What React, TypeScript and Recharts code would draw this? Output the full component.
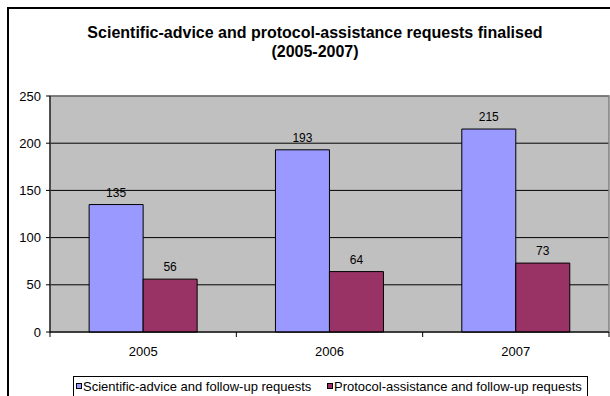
import React from "react";
import { BarChart, Bar, XAxis, YAxis, CartesianGrid, LabelList, ReferenceArea } from "recharts";

const years = ["2005", "2006", "2007"];
const scientificAdvice = [135, 193, 215];
const protocolAssistance = [56, 64, 73];
const yTicks = [0, 50, 100, 150, 200, 250];
const titleLines = ["Scientific-advice and protocol-assistance requests finalised", "(2005-2007)"];
const seriesNames = ["Scientific-advice and follow-up requests", "Protocol-assistance and follow-up requests"];
const seriesColors = ["#9999FF", "#993366"];

const data = years.map((y, i) => ({ year: y, sa: scientificAdvice[i], pa: protocolAssistance[i] }));

const FONT = "'Liberation Sans', Arial, sans-serif";

const XTick = (props: any) => {
  const { x, y, payload } = props;
  const off = payload.offset || 0;
  const idx = payload.index;
  const top = y - 5;
  return (
    <g>
      {idx === 0 && <line x1={x - off} x2={x - off} y1={top} y2={top + 5} stroke="#000" />}
      <line x1={x + off} x2={x + off} y1={top} y2={top + 5} stroke="#000" />
      <text x={x} y={top + 24} textAnchor="middle" fontSize={13} fill="#000" fontFamily={FONT}>
        {payload.value}
      </text>
    </g>
  );
};

const legendLayout = [
  { marker: 76, text: 83 },
  { marker: 327, text: 334 },
];

export default function App() {
  return (
    <div style={{ position: "absolute", left: 0, top: 0, width: 610, height: 396, overflow: "hidden", background: "#fff", fontFamily: FONT }}>
      <div style={{ position: "absolute", left: 7, top: 7, width: 700, height: 500, border: "2px solid #000", boxSizing: "border-box" }} />
      <div style={{ position: "absolute", left: 7, top: 23, width: 616, textAlign: "center", fontWeight: "bold", fontSize: 16, lineHeight: "19px", color: "#000", whiteSpace: "nowrap" }}>
        {titleLines.map((t) => (
          <div key={t}>{t}</div>
        ))}
      </div>
      <div style={{ position: "absolute", left: 0, top: 0 }}>
        <BarChart width={610} height={396} data={data} margin={{ top: 96, right: 1, left: 0, bottom: 34 }} barGap={0} barCategoryGap="21%">
          <CartesianGrid fill="#C0C0C0" stroke="#000" vertical={false} horizontal={true} />
          <ReferenceArea y1={0} y2={250} fill="none" stroke="#808080" strokeWidth={1.5} />
          <XAxis dataKey="year" height={30} axisLine={{ stroke: "#000" }} tickLine={false} tickSize={5} tickMargin={0} tick={<XTick />} interval={0} />
          <YAxis
            width={50}
            domain={[0, 250]}
            ticks={yTicks}
            axisLine={{ stroke: "#000" }}
            tickLine={{ stroke: "#000" }}
            tickSize={4}
            tickMargin={5}
            tick={{ fontSize: 13, fill: "#000", fontFamily: FONT }}
          />
          <Bar dataKey="sa" fill={seriesColors[0]} stroke="#000" strokeWidth={1} isAnimationActive={false}>
            <LabelList dataKey="sa" position="top" offset={8} fontSize={12} fill="#000" fontFamily={FONT} />
          </Bar>
          <Bar dataKey="pa" fill={seriesColors[1]} stroke="#000" strokeWidth={1} isAnimationActive={false}>
            <LabelList dataKey="pa" position="top" offset={8} fontSize={12} fill="#000" fontFamily={FONT} />
          </Bar>
        </BarChart>
      </div>
      <div style={{ position: "absolute", left: 73, top: 376, width: 515, height: 30, border: "1px solid #000", boxSizing: "border-box", background: "#fff" }} />
      {seriesNames.map((n, i) => (
        <React.Fragment key={n}>
          <span style={{ position: "absolute", left: legendLayout[i].marker, top: 383, width: 6, height: 6, background: seriesColors[i], border: "1px solid #000", boxSizing: "border-box" }} />
          <span style={{ position: "absolute", left: legendLayout[i].text, top: 379, fontSize: 13, lineHeight: "15px", color: "#000", whiteSpace: "nowrap" }}>{n}</span>
        </React.Fragment>
      ))}
    </div>
  );
}
